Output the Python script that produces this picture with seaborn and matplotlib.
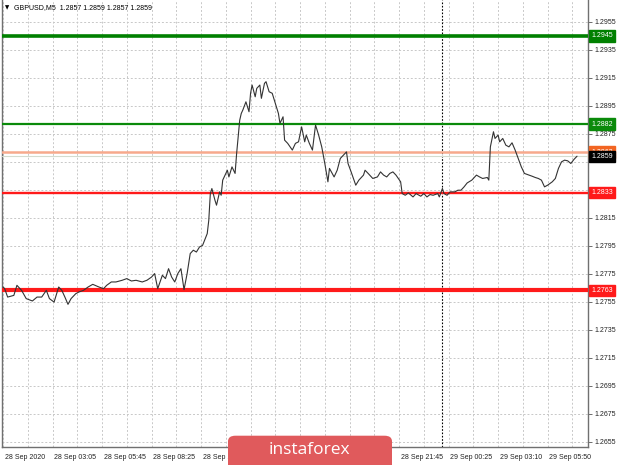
import numpy as np
import pandas as pd
import matplotlib
matplotlib.use("Agg")
import matplotlib.pyplot as plt
import matplotlib.transforms as mtransforms
from matplotlib.patches import FancyBboxPatch
import seaborn as sns

# GBPUSD M5 closes (bar index from 28 Sep 00:00)
bars = [0, 1, 3, 7, 9, 12, 15, 19, 22, 25, 28, 30, 33, 36, 38, 40, 42, 44, 47, 49,
        52, 55, 58, 62, 65, 67, 70, 73, 77, 80, 83, 86, 90, 93, 96, 98, 100, 103, 105, 107,
        109, 111, 113, 115, 117, 119, 121, 123, 125, 127, 129, 132, 133, 134, 135, 137, 138, 140, 141, 142,
        145, 146, 148, 150, 151, 153, 154, 155, 157, 159, 160, 161, 163, 164, 166, 167, 169, 170, 172, 174,
        176, 178, 179, 181, 182, 184, 187, 189, 191, 193, 195, 196, 198, 200, 202, 204, 206, 208, 210, 211,
        214, 216, 218, 220, 222, 223, 225, 228, 230, 233, 234, 236, 239, 242, 244, 246, 248, 250, 252, 254,
        257, 258, 260, 262, 265, 267, 270, 272, 274, 276, 278, 281, 282, 284, 285, 287, 289, 292, 294, 296,
        298, 300, 303, 306, 308, 310, 313, 314, 315, 317, 318, 320, 321, 323, 325, 327, 329, 331, 333, 335,
        337, 340, 342, 344, 346, 348, 350, 352, 355, 357, 359, 361, 363, 365, 367, 369, 371]
closes = [1.27655, 1.27645, 1.27583, 1.27595, 1.27667, 1.27631, 1.27572, 1.27555, 1.27583, 1.27583,
          1.27631, 1.27572, 1.27547, 1.27655, 1.27631, 1.27583, 1.27531, 1.27572, 1.27607, 1.27619,
          1.27631, 1.27655, 1.27674, 1.27655, 1.27643, 1.27667, 1.27691, 1.27691, 1.27703, 1.27715,
          1.27698, 1.27703, 1.27691, 1.27703, 1.27726, 1.27751, 1.27643, 1.27739, 1.27715, 1.27786,
          1.27726, 1.27691, 1.27751, 1.27786, 1.27636, 1.27751, 1.27894, 1.27918, 1.27905, 1.27941,
          1.27953, 1.28037, 1.28132, 1.28323, 1.28359, 1.28275, 1.28240, 1.28335, 1.28311, 1.28419,
          1.28490, 1.28442, 1.28514, 1.28467, 1.28610, 1.28848, 1.28896, 1.28920, 1.28979, 1.28908,
          1.29040, 1.29099, 1.29015, 1.29075, 1.29099, 1.29004, 1.29111, 1.29123, 1.29051, 1.29040,
          1.28968, 1.28896, 1.28825, 1.28872, 1.28705, 1.28682, 1.28634, 1.28682, 1.28693, 1.28800,
          1.28693, 1.28741, 1.28682, 1.28634, 1.28813, 1.28741, 1.28657, 1.28538, 1.28407, 1.28503,
          1.28442, 1.28490, 1.28574, 1.28598, 1.28621, 1.28538, 1.28478, 1.28383, 1.28419, 1.28455,
          1.28490, 1.28467, 1.28431, 1.28442, 1.28478, 1.28455, 1.28442, 1.28467, 1.28478, 1.28455,
          1.28407, 1.28323, 1.28311, 1.28328, 1.28299, 1.28323, 1.28304, 1.28323, 1.28299, 1.28316,
          1.28311, 1.28323, 1.28299, 1.28359, 1.28323, 1.28311, 1.28335, 1.28335, 1.28347, 1.28347,
          1.28371, 1.28399, 1.28419, 1.28455, 1.28442, 1.28431, 1.28438, 1.28419, 1.28657, 1.28765,
          1.28717, 1.28741, 1.28693, 1.28717, 1.28669, 1.28657, 1.28686, 1.28634, 1.28574, 1.28514,
          1.28467, 1.28455, 1.28447, 1.28438, 1.28431, 1.28419, 1.28371, 1.28383, 1.28407, 1.28431,
          1.28503, 1.28550, 1.28562, 1.28557, 1.28538, 1.28567, 1.28590]

# labels under the watermark are not visible, left blank
time_labels = ["28 Sep 2020", "28 Sep 03:05", "28 Sep 05:45", "28 Sep 08:25",
               "28 Sep 11:05", "", "", "",
               "28 Sep 21:45", "29 Sep 00:25", "29 Sep 03:10", "29 Sep 05:50"]
label_bars = list(range(0, 353, 32))
day_break = 284

green_levels = [1.2945, 1.2882]
red_levels = [1.2833, 1.2763]
order_level = 1.2862
bid = 1.2859
price_ticks = [round(1.2655 + 0.002 * k, 4) for k in range(16)]
title = "GBPUSD,M5  1.2857 1.2859 1.2857 1.2859"

df = pd.DataFrame({"bar": bars, "close": closes})

sns.set_style("white")
plt.rcParams["font.family"] = ["Liberation Sans", "DejaVu Sans"]

fig = plt.figure(figsize=(6.2, 4.65), dpi=100)
ax = fig.add_axes([2 / 620, 18 / 465, 586 / 620, 447 / 465])

ax.set_xlim(-0.65, 378.1)
ax.set_ylim(1.26511, 1.29707)

# grid
ax.set_xticks(label_bars)
ax.set_xticks(range(16, 377, 32), minor=True)
ax.set_yticks(price_ticks)
ax.grid(True, which="both", color="#c8c8c8", linestyle=(0, (2, 2)), linewidth=0.7)

ax.axvline(day_break, color="black", linestyle=(0, (1.5, 1.5)), linewidth=0.8, zorder=2)

# levels
ax.axhline(green_levels[0], color="#008000", linewidth=2.6, zorder=3)
ax.axhline(green_levels[1], color="#0a8a0a", linewidth=1.6, zorder=3)
ax.axhline(red_levels[0], color="#ff1a1a", linewidth=1.7, zorder=3)
ax.axhline(red_levels[1], color="#ff1a1a", linewidth=3.0, zorder=3)
ax.axhline(order_level, color="#f7a98c", linewidth=1.8, zorder=3)
ax.axhline(bid, color="#d4dccf", linewidth=0.8, zorder=3)

sns.lineplot(data=df, x="bar", y="close", ax=ax, color="#333333",
             linewidth=0.8, zorder=4)

ax.set_xlabel("")
ax.set_ylabel("")

# axes styling
ax.yaxis.tick_right()
hidden = {1.2855, 1.2835}
ax.set_yticklabels(["" if t in hidden else f"{t:.4f}" for t in price_ticks])
ax.tick_params(axis="y", which="major", length=3, width=0.6, color="#555555",
               labelsize=5, labelcolor="#222222", pad=2)
ax.set_xticklabels(time_labels, ha="left")
ax.tick_params(axis="x", which="major", length=4, width=0.6, color="#555555",
               labelsize=5, labelcolor="#222222", pad=1)
ax.tick_params(axis="x", which="minor", length=0)
offset = mtransforms.ScaledTranslation(1.5 / 100, 0, fig.dpi_scale_trans)
for lab in ax.get_xticklabels():
    lab.set_transform(lab.get_transform() + offset)

for side in ["left", "right", "bottom"]:
    ax.spines[side].set_color("#707070")
    ax.spines[side].set_linewidth(1.0)
ax.spines["top"].set_visible(False)

# price boxes on the scale
tr = mtransforms.blended_transform_factory(ax.transAxes, ax.transData)
boxes = [(green_levels[0], "#008000"), (green_levels[1], "#0a8a0a"),
         (order_level, "#f26522"), (bid, "#000000"),
         (red_levels[0], "#ff1a1a"), (red_levels[1], "#ff1a1a")]
for val, col in boxes:
    ax.text(1.006, val, f"{val:.4f}", transform=tr, fontsize=5, color="white",
            ha="left", va="center", zorder=6, clip_on=False,
            bbox=dict(boxstyle="square,pad=0.3", facecolor=col, edgecolor=col))

# symbol header
fig.text(5 / 620, 1 - 8 / 465, "\u25bc", fontsize=4, color="black",
         ha="left", va="center", family="DejaVu Sans")
fig.text(14 / 620, 1 - 8 / 465, title, fontsize=5, color="black",
         ha="left", va="center")

# watermark banner
banner = FancyBboxPatch((228 / 620, -0.02), 164 / 620, 0.083,
                        boxstyle="round,pad=0,rounding_size=0.012",
                        transform=fig.transFigure, facecolor="#e05a5c",
                        edgecolor="none", zorder=10)
fig.patches.append(banner)
fig.text(309 / 620, 15 / 465, "instaforex", fontsize=12.5, color="white",
         ha="center", va="center", family=["Open Sans", "DejaVu Sans"], zorder=11)

fig.savefig("out.png", dpi=100)
